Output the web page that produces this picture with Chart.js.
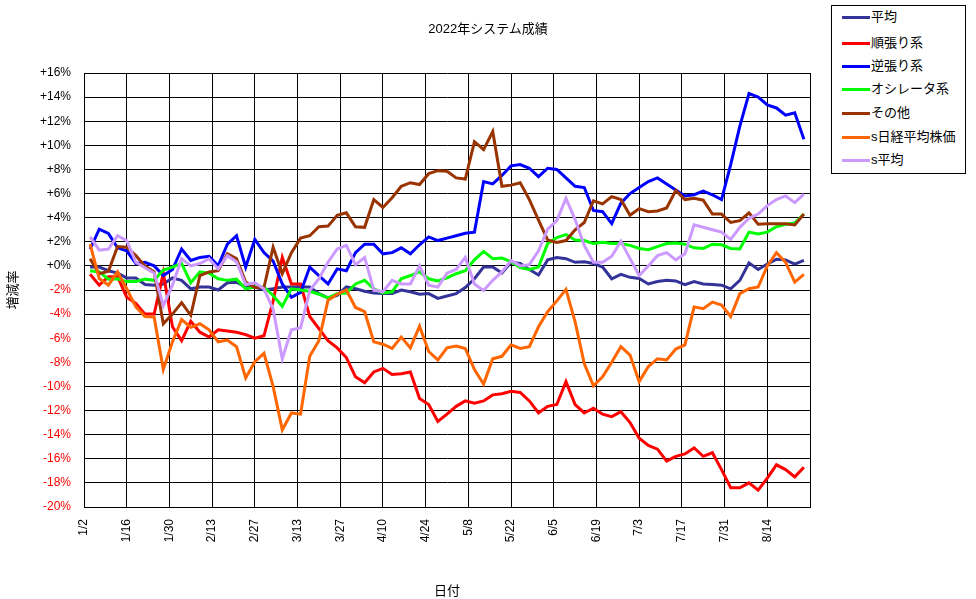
<!DOCTYPE html>
<html lang="ja">
<head>
<meta charset="utf-8">
<title>2022年システム成績</title>
<script src="https://cdn.jsdelivr.net/npm/chart.js@4.4.1/dist/chart.umd.min.js"></script>
<style>
  body { margin: 0; background: #fff; }
  #wrap { position: relative; width: 976px; height: 599px; font-family: 'Liberation Sans', 'Noto Sans CJK JP', sans-serif; }
  #chart { position: absolute; left: 0; top: 0; }
  #title { position: absolute; left: 0; top: 18px; width: 976px; text-align: center; font-size: 13px; color: #000; }
  #legend { position: absolute; left: 831px; top: 5px; width: 133px; height: 167px; border: 1px solid #000; background: #fff; }
  .item { position: absolute; left: 10px; height: 18px; font-size: 13px; line-height: 18px; white-space: nowrap; }
  .item span.swatch { display: inline-block; width: 28px; height: 3px; vertical-align: middle; margin-right: 1px; }
</style>
</head>
<body>
<div id="wrap">
  <canvas id="chart" width="976" height="599"></canvas>
  <div id="title">2022年システム成績</div>
  <div id="legend"></div>
</div>
<script>
const dates = ['1/4','1/7','1/10','1/13','1/16','1/19','1/22','1/25','1/28','1/31',
  '2/3','2/6','2/9','2/12','2/15','2/18','2/21','2/24','2/27',
  '3/2','3/5','3/8','3/11','3/14','3/17','3/20','3/23','3/26','3/29',
  '4/1','4/4','4/7','4/10','4/13','4/16','4/19','4/22','4/25','4/28',
  '5/1','5/4','5/7','5/10','5/13','5/16','5/19','5/22','5/25','5/28','5/31',
  '6/3','6/6','6/9','6/12','6/15','6/18','6/21','6/24','6/27','6/30',
  '7/3','7/6','7/9','7/12','7/15','7/18','7/21','7/24','7/27','7/30',
  '8/2','8/5','8/8','8/11','8/14','8/17','8/20','8/23','8/26'];

const tickLabels = ['1/2','1/16','1/30','2/13','2/27','3/13','3/27','4/10','4/24',
  '5/8','5/22','6/5','6/19','7/3','7/17','7/31','8/14'];

// 平均
const heikin = [-0.1,-0.1,-0.4,-0.6,-1.0,-1.0,-1.55,-1.6,-1.5,-1.0,-1.2,
  -1.9,-1.75,-1.75,-2.0,-1.4,-1.35,-1.75,-1.75,-2.0,-1.9,-1.75,-1.75,
  -1.75,-1.75,-2.3,-2.65,-2.45,-1.75,-1.9,-2.1,-2.25,-2.3,-2.3,
  -2.0,-2.15,-2.35,-2.3,-2.7,-2.5,-2.3,-1.8,-1.07,-0.1,-0.1,-0.6,
  0.3,0.2,-0.3,-0.75,0.5,0.7,0.6,0.3,0.35,0.2,-0.1,
  -1.07,-0.7,-0.95,-1.05,-1.5,-1.3,-1.2,-1.25,-1.55,-1.3,-1.5,-1.55,
  -1.6,-1.9,-1.2,0.25,-0.3,0.15,0.55,0.5,0.15,0.45];

// 順張り系
const junbari = [-0.7,-1.6,-0.9,-0.9,-2.6,-3.1,-4.0,-4.0,-0.6,-5.05,-6.2,
  -4.6,-5.5,-5.9,-5.3,-5.4,-5.5,-5.7,-6.0,-5.8,-2.9,0.7,-1.5,
  -1.5,-4.2,-5.2,-6.2,-6.8,-7.6,-9.2,-9.7,-8.8,-8.5,-9.0,
  -8.95,-8.8,-11.0,-11.5,-12.9,-12.3,-11.65,-11.2,-11.4,-11.2,-10.7,-10.6,
  -10.4,-10.5,-11.2,-12.2,-11.65,-11.5,-9.6,-11.5,-12.2,-11.8,-12.3,
  -12.5,-12.1,-13.0,-14.3,-14.9,-15.2,-16.2,-15.8,-15.6,-15.1,-15.8,-15.5,
  -16.9,-18.4,-18.4,-18.0,-18.6,-17.6,-16.5,-16.9,-17.5,-16.7];

// 逆張り系
const gyakubari = [1.4,3.05,2.7,1.5,1.25,0.2,0.3,0.0,-0.8,-0.3,1.4,
  0.45,0.7,0.8,0.0,1.8,2.5,-0.1,2.2,1.1,0.4,-1.5,-2.6,
  -2.2,-0.1,-0.8,-1.5,-0.25,-0.4,1.1,1.8,1.8,1.0,1.1,
  1.5,1.0,1.75,2.4,2.1,2.3,2.5,2.7,2.8,7.0,6.8,7.5,
  8.3,8.4,8.1,7.4,8.1,8.0,7.3,6.6,6.5,4.6,4.5,
  3.5,5.2,6.0,6.5,7.0,7.3,6.8,6.3,5.8,5.9,6.2,5.9,
  5.5,8.4,11.6,14.3,14.0,13.35,13.1,12.5,12.7,10.5];

// オシレータ系
const oscillator = [-0.4,-0.5,-1.1,-1.07,-1.3,-1.3,-1.1,-1.2,-0.35,-0.1,0.2,
  -1.4,-0.5,-0.6,-1.07,-1.2,-1.1,-1.9,-1.75,-1.75,-2.45,-3.35,-1.9,
  -2.0,-2.1,-2.35,-2.65,-2.3,-2.25,-1.5,-1.2,-1.9,-2.25,-2.15,
  -1.07,-0.8,-0.5,-1.07,-1.25,-1.0,-0.65,-0.4,0.5,1.2,0.6,0.65,
  0.35,-0.15,-0.3,-0.1,1.85,2.35,2.6,2.15,2.1,1.85,1.95,
  1.85,1.85,1.7,1.45,1.35,1.6,1.85,1.9,1.8,1.5,1.45,1.8,
  1.75,1.45,1.4,2.8,2.65,2.8,3.25,3.45,3.55,4.3];

// その他
const sonota = [0.6,-0.65,-0.45,1.6,1.55,0.85,0.0,-0.5,-4.8,-4.0,-3.05,
  -4.1,-0.8,-0.5,-0.4,1.0,0.6,-1.35,-1.8,-1.8,1.55,-0.65,1.1,
  2.3,2.5,3.25,3.3,4.2,4.4,3.25,3.2,5.5,4.85,5.65,
  6.6,6.9,6.75,7.65,7.9,7.85,7.3,7.2,10.3,9.65,11.15,6.6,
  6.7,6.9,5.5,3.8,2.15,1.95,2.1,3.0,3.6,5.4,5.15,
  5.75,5.5,4.2,4.75,4.5,4.55,4.8,6.25,5.5,5.6,5.45,4.3,
  4.3,3.6,3.75,4.4,3.45,3.5,3.5,3.5,3.4,4.3];

// s日経平均株価
const nikkei = [1.8,-1.05,-1.6,-0.5,-1.9,-3.4,-4.2,-4.25,-8.6,-6.3,-4.45,
  -5.1,-4.8,-5.3,-6.3,-6.15,-6.7,-9.3,-7.95,-7.25,-10.0,-13.6,-12.2,
  -12.3,-7.5,-6.2,-2.85,-2.35,-2.0,-3.45,-3.8,-6.3,-6.5,-6.85,
  -5.9,-6.8,-5.0,-7.1,-7.8,-6.8,-6.65,-6.85,-8.6,-9.8,-7.7,-7.5,
  -6.55,-6.85,-6.7,-5.05,-3.8,-2.9,-1.95,-4.65,-8.1,-9.95,-9.2,
  -8.0,-6.7,-7.4,-9.6,-8.35,-7.7,-7.8,-6.9,-6.55,-3.4,-3.55,-3.0,
  -3.25,-4.2,-2.3,-1.9,-1.75,0.0,1.1,0.3,-1.35,-0.7];

// s平均
const sHeikin = [2.4,1.3,1.4,2.5,2.1,0.3,-0.15,-0.6,-3.3,-1.6,0.6,
  0.0,0.2,0.6,-0.25,0.85,0.35,-1.55,-1.4,-1.9,-3.6,-7.7,-5.3,
  -5.15,-2.05,-1.07,0.3,1.4,1.7,0.1,0.7,-2.0,-2.15,-1.2,
  -1.5,-1.5,0.0,-1.6,-1.75,-0.6,-0.3,0.7,-1.5,-2.05,-1.2,-0.5,
  0.45,0.0,0.1,1.25,3.05,3.75,5.6,3.85,1.7,0.3,0.3,
  0.8,2.05,0.6,-0.8,0.0,0.85,1.1,0.5,1.0,3.4,3.2,3.0,
  2.8,2.2,3.2,3.95,4.3,5.0,5.5,5.8,5.25,5.95];

const seriesNames = ['平均','順張り系','逆張り系','オシレータ系','その他','s日経平均株価','s平均'];
const seriesValues = [heikin, junbari, gyakubari, oscillator, sonota, nikkei, sHeikin];
const seriesColors = ['#333399','#FF0000','#0000FF','#00FF00','#993300','#FF6600','#CC99FF'];

// days since 1/2
function dayNum(s) {
  const [m, d] = s.split('/').map(Number);
  return Math.round((Date.UTC(2022, m - 1, d) - Date.UTC(2022, 0, 2)) / 86400000);
}
const xDays = dates.map(dayNum);

const datasets = seriesNames.map((name, i) => ({
  label: name,
  data: seriesValues[i].map((v, j) => ({ x: xDays[j], y: v })),
  borderColor: seriesColors[i],
  backgroundColor: seriesColors[i],
  borderWidth: 3,
  pointRadius: 0,
  tension: 0,
  order: -i
}));

const legend = document.getElementById('legend');
const legendTops = [2, 28, 51, 74, 98, 122, 145];
seriesNames.forEach((name, i) => {
  const item = document.createElement('div');
  item.className = 'item';
  item.style.top = legendTops[i] + 'px';
  item.innerHTML = '<span class="swatch" style="background:' + seriesColors[i] + '"></span>' + name;
  legend.appendChild(item);
});

const fontStack = "'Liberation Sans', 'Noto Sans CJK JP', sans-serif";

new Chart(document.getElementById('chart'), {
  type: 'line',
  data: { datasets: datasets },
  options: {
    responsive: false,
    animation: false,
    devicePixelRatio: 1,
    layout: { padding: { left: 0, top: 73, right: 166, bottom: 0 } },
    plugins: {
      legend: { display: false },
      title: { display: false },
      tooltip: { enabled: false }
    },
    scales: {
      x: {
        type: 'linear',
        min: 0,
        max: 238,
        afterFit: (scale) => { scale.height = 92; },
        afterBuildTicks: (scale) => {
          scale.ticks = [];
          for (let v = 0; v <= 238; v += 14) scale.ticks.push({ value: v });
        },
        grid: { color: '#000', lineWidth: 1, drawTicks: false },
        border: { color: '#000', width: 1 },
        ticks: {
          autoSkip: false,
          minRotation: 90,
          maxRotation: 90,
          padding: 12,
          color: '#000',
          font: { family: fontStack, size: 12 },
          callback: (v, i) => tickLabels[i] || ''
        },
        title: {
          display: true,
          text: '日付',
          color: '#000',
          font: { family: fontStack, size: 13 },
          padding: { top: 9, bottom: 0 }
        }
      },
      y: {
        min: -20,
        max: 16,
        afterFit: (scale) => { scale.width = 84; },
        grid: { color: '#000', lineWidth: 1, drawTicks: false },
        border: { color: '#000', width: 1 },
        ticks: {
          stepSize: 2,
          padding: 13,
          font: { family: fontStack, size: 12 },
          color: (ctx) => ctx.tick.value < 0 ? '#FF0000' : '#000',
          callback: (v) => (v >= 0 ? '+' + v : v) + '%'
        },
        title: {
          display: true,
          text: '増減率',
          color: '#000',
          font: { family: fontStack, size: 13 },
          padding: { top: 6, bottom: 0 }
        }
      }
    }
  }
});
</script>
</body>
</html>
